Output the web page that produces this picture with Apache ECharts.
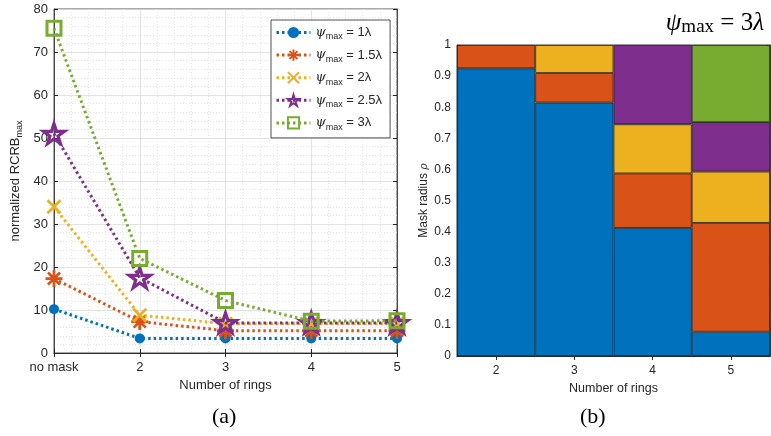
<!DOCTYPE html>
<html><head><meta charset="utf-8">
<script src="https://cdn.jsdelivr.net/npm/echarts@6/dist/echarts.min.js"></script>
<style>html,body{margin:0;padding:0;background:#fff}#c{width:771px;height:436px}</style>
</head><body><div id="c"></div>
<script>
// ---- data: left panel ----
const ringsX = [1, 2, 3, 4, 5];           // 1 = "no mask"
const xTickLabels = ['no mask', '2', '3', '4', '5'];
const psiLabels = ['1λ', '1.5λ', '2λ', '2.5λ', '3λ'];
const rcrb1 = [10.2, 3.4, 3.4, 3.4, 3.4];
const rcrb15 = [17.3, 7.3, 5.2, 5.2, 5.2];
const rcrb2 = [34.0, 8.8, 6.8, 6.8, 6.8];
const rcrb25 = [51.0, 17.5, 7.0, 7.0, 7.0];
const rcrb3 = [75.5, 22.0, 12.2, 7.4, 7.5];
// ---- data: right panel (segment heights, stacked bottom->top) ----
const ringCats = ['2', '3', '4', '5'];
const seg1 = [0.925, 0.815, 0.412, 0.078];
const seg2 = [0.075, 0.095, 0.175, 0.350];
const seg3 = [0, 0.090, 0.158, 0.165];
const seg4 = [0, 0, 0.255, 0.159];
const seg5 = [0, 0, 0, 0.248];

const C = ['#0072BD', '#D95319', '#EDB120', '#7E2F8E', '#77AC30'];
const AX = '#262626';
const FF = 'Liberation Sans';
const STAR = 'path://M0,-10L2.245,-3.09L9.511,-3.09L3.633,1.18L5.878,8.09L0,3.82L-5.878,8.09L-3.633,1.18L-9.511,-3.09L-2.245,-3.09Z';
const AST = 'path://M0,-10L0,10M-10,0L10,0M-7.07,-7.07L7.07,7.07M-7.07,7.07L7.07,-7.07';
const XS = 'path://M-10,-10L10,10M-10,10L10,-10';

const lineSets = [rcrb1, rcrb15, rcrb2, rcrb25, rcrb3];
const syms = [
  {symbol: 'circle', size: 10, fill: C[0], bw: 0},
  {symbol: AST, size: 17, fill: 'rgba(0,0,0,0)', bw: 2.8},
  {symbol: XS, size: 13, fill: 'rgba(0,0,0,0)', bw: 2.8},
  {symbol: STAR, size: 21, fill: 'rgba(0,0,0,0)', bw: 3.2},
  {symbol: 'rect', size: 14, fill: 'rgba(0,0,0,0)', bw: 3}
];
const seriesNames = psiLabels.map(l => 'psi ' + l);

const series = lineSets.map((arr, i) => ({
  name: seriesNames[i],
  type: 'line',
  xAxisIndex: 0, yAxisIndex: 0,
  data: arr.map((v, j) => [ringsX[j], v]),
  symbol: syms[i].symbol,
  symbolSize: syms[i].size,
  symbolKeepAspect: true,
  lineStyle: {color: C[i], width: 3, type: [2.5, 3]},
  itemStyle: {color: syms[i].fill, borderColor: C[i], borderWidth: syms[i].bw},
  z: 3 + i
}));

const segs = [seg1, seg2, seg3, seg4, seg5];
segs.forEach((arr, i) => {
  series.push({
    name: 'seg' + i,
    type: 'bar',
    stack: 'mask',
    xAxisIndex: 2, yAxisIndex: 2,
    barWidth: '100%',
    data: arr.map(v => v > 0 ? v : null),
    itemStyle: {color: C[i], borderColor: '#1a1a1a', borderWidth: 0.8}
  });
});

const rich = {
  psi: {fontFamily: 'DejaVu Serif', fontStyle: 'italic', fontSize: 13, color: AX},
  sub: {fontFamily: FF, fontSize: 9, color: AX, padding: [9, 0, 0, 0]},
  t: {fontFamily: FF, fontSize: 13, color: AX}
};

const option = {
  animation: false,
  backgroundColor: '#fff',
  title: {
    text: '{p|ψ}{m|max}{e| = 3}{l|λ}',
    right: 2, top: 5,
    textStyle: {
      fontWeight: 'normal',
      rich: {
        p: {fontFamily: 'Liberation Serif', fontStyle: 'italic', fontWeight: 'normal', fontSize: 25, color: '#000'},
        m: {fontFamily: 'Liberation Serif', fontWeight: 'normal', fontSize: 19, color: '#000', padding: [8, 0, 0, 0]},
        e: {fontFamily: 'Liberation Serif', fontWeight: 'normal', fontSize: 25, color: '#000'},
        l: {fontFamily: 'Liberation Serif', fontStyle: 'italic', fontWeight: 'normal', fontSize: 25, color: '#000'}
      }
    }
  },
  legend: {
    data: seriesNames,
    orient: 'vertical',
    left: 271, top: 20,
    width: 116,
    padding: [6, 8, 6, 4],
    itemGap: 7,
    itemWidth: 34, itemHeight: 14,
    backgroundColor: '#fff',
    borderColor: AX, borderWidth: 0.8, borderRadius: 0,
    lineStyle: {width: 3, type: [2.5, 3]},
    formatter: name => {
      const i = seriesNames.indexOf(name);
      return '{psi|ψ}{sub|max}{t| = ' + psiLabels[i] + '}';
    },
    textStyle: {rich: rich, padding: [0, 0, 0, 0]}
  },
  grid: [
    {left: 54, top: 9, width: 343, height: 344, show: true, borderColor: AX, borderWidth: 0.8, backgroundColor: '#fff'},
    {left: 457, top: 45, width: 313, height: 311, show: true, borderColor: AX, borderWidth: 0.8}
  ],
  xAxis: [
    {
      gridIndex: 0, type: 'value', min: 1, max: 5, interval: 1,
      axisLine: {show: true, lineStyle: {color: AX, width: 0.8}},
      axisTick: {show: true, inside: true, length: 4, lineStyle: {color: AX}},
      minorTick: {show: true, splitNumber: 5, length: 0},
      minorSplitLine: {show: true, lineStyle: {color: '#e0e0e0', type: [1, 2], width: 0.8}},
      splitLine: {show: true, lineStyle: {color: '#dcdcdc', width: 0.8}},
      axisLabel: {color: AX, fontFamily: FF, fontSize: 13, margin: 8,
        formatter: v => xTickLabels[ringsX.indexOf(v)] || ''},
      name: 'Number of rings', nameLocation: 'middle', nameGap: 25,
      nameTextStyle: {color: AX, fontFamily: FF, fontSize: 13}
    },
    {
      gridIndex: 0, type: 'value', min: 1, max: 5, interval: 1, position: 'top',
      axisLine: {show: true, lineStyle: {color: AX, width: 0.8}},
      axisTick: {show: true, inside: true, length: 4, lineStyle: {color: AX}},
      axisLabel: {show: false}, splitLine: {show: false}
    },
    {
      gridIndex: 1, type: 'category', data: ringCats, boundaryGap: true,
      axisLine: {show: true, lineStyle: {color: AX, width: 0.8}},
      axisTick: {show: true, inside: true, alignWithLabel: true, length: 4, lineStyle: {color: AX}},
      axisLabel: {color: AX, fontFamily: FF, fontSize: 12, margin: 9},
      splitLine: {show: false},
      name: 'Number of rings', nameLocation: 'middle', nameGap: 21,
      nameTextStyle: {color: AX, fontFamily: FF, fontSize: 12.5}
    },
    {
      gridIndex: 1, type: 'category', data: ringCats, boundaryGap: true, position: 'top',
      axisLine: {show: true, lineStyle: {color: AX, width: 0.8}},
      axisTick: {show: true, inside: true, alignWithLabel: true, length: 4, lineStyle: {color: AX}},
      axisLabel: {show: false}, splitLine: {show: false}
    }
  ],
  yAxis: [
    {
      gridIndex: 0, type: 'value', min: 0, max: 80, interval: 10,
      axisLine: {show: true, lineStyle: {color: AX, width: 0.8}},
      axisTick: {show: true, inside: true, length: 4, lineStyle: {color: AX}},
      minorTick: {show: true, splitNumber: 5, length: 0},
      minorSplitLine: {show: true, lineStyle: {color: '#e0e0e0', type: [1, 2], width: 0.8}},
      splitLine: {show: true, lineStyle: {color: '#dcdcdc', width: 0.8}},
      axisLabel: {color: AX, fontFamily: FF, fontSize: 13, margin: 6},
      name: '{a|normalized RCRB}{b|max}', nameLocation: 'middle', nameGap: 30,
      nameTextStyle: {rich: {
        a: {color: AX, fontFamily: FF, fontSize: 13},
        b: {color: AX, fontFamily: FF, fontSize: 9, padding: [8, 0, 0, 0]}
      }}
    },
    {
      gridIndex: 0, type: 'value', min: 0, max: 80, interval: 10, position: 'right',
      axisLine: {show: true, lineStyle: {color: AX, width: 0.8}},
      axisTick: {show: true, inside: true, length: 4, lineStyle: {color: AX}},
      axisLabel: {show: false}, splitLine: {show: false}
    },
    {
      gridIndex: 1, type: 'value', min: 0, max: 1, interval: 0.1,
      axisLine: {show: true, lineStyle: {color: AX, width: 0.8}},
      axisTick: {show: true, inside: true, length: 4, lineStyle: {color: AX}},
      axisLabel: {color: AX, fontFamily: FF, fontSize: 12, margin: 6,
        formatter: v => String(Math.round(v * 10) / 10)},
      splitLine: {show: false},
      name: '{a|Mask radius }{b|ρ}', nameLocation: 'middle', nameGap: 27,
      nameTextStyle: {rich: {
        a: {color: AX, fontFamily: FF, fontSize: 12},
        b: {color: AX, fontFamily: 'DejaVu Serif', fontStyle: 'italic', fontSize: 11}
      }}
    },
    {
      gridIndex: 1, type: 'value', min: 0, max: 1, interval: 0.1, position: 'right',
      axisLine: {show: true, lineStyle: {color: AX, width: 0.8}},
      axisTick: {show: true, inside: true, length: 4, lineStyle: {color: AX}},
      axisLabel: {show: false}, splitLine: {show: false}
    }
  ],
  graphic: [
    {type: 'text', left: 212, top: 406, style: {text: '(a)', font: '22px "Liberation Serif"', fill: '#000'}},
    {type: 'text', left: 580, top: 406, style: {text: '(b)', font: '22px "Liberation Serif"', fill: '#000'}}
  ],
  series: series
};

const chart = echarts.init(document.getElementById('c'), null, {renderer: 'canvas'});
chart.setOption(option);
</script>
</body></html>
